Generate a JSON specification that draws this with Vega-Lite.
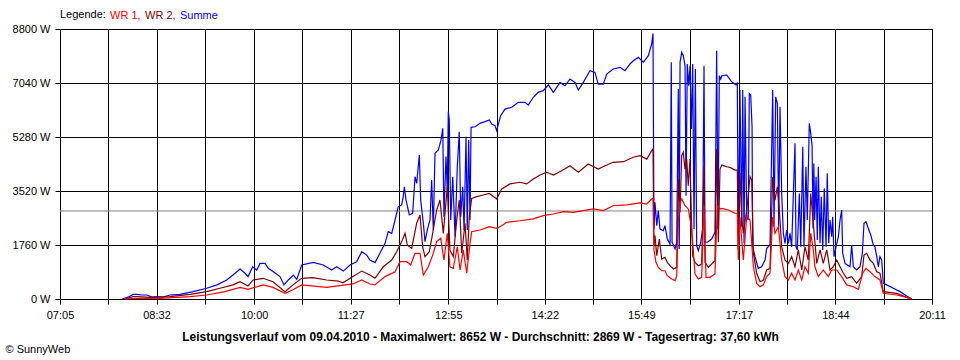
{
"$schema": "https://vega.github.io/schema/vega-lite/v6.json",
"width": 872, "height": 270,
"autosize": {"type": "none"},
"padding": {"left": 60, "top": 29, "right": 28, "bottom": 61},
"background": "white",
"config": {"view": {"stroke": "black", "strokeWidth": 1}, "font": "Liberation Sans"},
"data": {"values": [
{"s":"Summe","t":480.9,"w":0},{"s":"Summe","t":486.3,"w":60},{"s":"Summe","t":490.8,"w":150},{"s":"Summe","t":494.4,"w":150},{"s":"Summe","t":498.9,"w":130},{"s":"Summe","t":503.4,"w":130},{"s":"Summe","t":507.9,"w":60},{"s":"Summe","t":512.4,"w":75},{"s":"Summe","t":517.8,"w":60},{"s":"Summe","t":524.2,"w":130},{"s":"Summe","t":533.2,"w":150},{"s":"Summe","t":544.9,"w":240},{"s":"Summe","t":557.2,"w":350},{"s":"Summe","t":566.5,"w":460},{"s":"Summe","t":575.3,"w":620},{"s":"Summe","t":580.9,"w":780},{"s":"Summe","t":587.3,"w":980},{"s":"Summe","t":591.8,"w":840},{"s":"Summe","t":594.5,"w":730},{"s":"Summe","t":598.7,"w":1050},{"s":"Summe","t":602.3,"w":945},{"s":"Summe","t":605.3,"w":1160},{"s":"Summe","t":609.8,"w":1160},{"s":"Summe","t":612.8,"w":1000},{"s":"Summe","t":617.3,"w":890},{"s":"Summe","t":623.3,"w":730},{"s":"Summe","t":626.9,"w":460},{"s":"Summe","t":630.8,"w":620},{"s":"Summe","t":635.3,"w":780},{"s":"Summe","t":638.4,"w":640},{"s":"Summe","t":642.9,"w":1110},{"s":"Summe","t":653.3,"w":1195},{"s":"Summe","t":662.3,"w":1110},{"s":"Summe","t":669.9,"w":945},{"s":"Summe","t":674.4,"w":1050},{"s":"Summe","t":680.4,"w":910},{"s":"Summe","t":686.4,"w":1110},{"s":"Summe","t":692.4,"w":1215},{"s":"Summe","t":697,"w":1540},{"s":"Summe","t":701.5,"w":1430},{"s":"Summe","t":704.4,"w":1270},{"s":"Summe","t":708.9,"w":1185},{"s":"Summe","t":713.4,"w":1490},{"s":"Summe","t":718,"w":1815},{"s":"Summe","t":720.9,"w":2195},{"s":"Summe","t":724,"w":2140},{"s":"Summe","t":727,"w":2575},{"s":"Summe","t":729.9,"w":3010},{"s":"Summe","t":733,"w":3065},{"s":"Summe","t":734.4,"w":3335},{"s":"Summe","t":735.4,"w":3660},{"s":"Summe","t":736.9,"w":3225},{"s":"Summe","t":739.9,"w":2740},{"s":"Summe","t":742.9,"w":2795},{"s":"Summe","t":745,"w":3985},{"s":"Summe","t":746.5,"w":3770},{"s":"Summe","t":748.9,"w":4695},{"s":"Summe","t":750.1,"w":3225},{"s":"Summe","t":752.5,"w":2470},{"s":"Summe","t":754,"w":1870},{"s":"Summe","t":756.1,"w":2250},{"s":"Summe","t":758.5,"w":2575},{"s":"Summe","t":760,"w":3880},{"s":"Summe","t":761.5,"w":2250},{"s":"Summe","t":763,"w":4750},{"s":"Summe","t":766,"w":4855},{"s":"Summe","t":768.4,"w":5180},{"s":"Summe","t":770,"w":5565},{"s":"Summe","t":771.1,"w":2680},{"s":"Summe","t":772.9,"w":4640},{"s":"Summe","t":774.1,"w":3550},{"s":"Summe","t":775,"w":6105},{"s":"Summe","t":775.9,"w":5835},{"s":"Summe","t":777.2,"w":2575},{"s":"Summe","t":779,"w":3985},{"s":"Summe","t":781.1,"w":2030},{"s":"Summe","t":783.1,"w":4310},{"s":"Summe","t":784.9,"w":5450},{"s":"Summe","t":786.2,"w":2680},{"s":"Summe","t":788,"w":3660},{"s":"Summe","t":789.2,"w":2250},{"s":"Summe","t":791,"w":5290},{"s":"Summe","t":792.1,"w":2250},{"s":"Summe","t":793.4,"w":5180},{"s":"Summe","t":794.6,"w":2575},{"s":"Summe","t":795.5,"w":5595},{"s":"Summe","t":799.1,"w":5615},{"s":"Summe","t":803.6,"w":5725},{"s":"Summe","t":808.1,"w":5780},{"s":"Summe","t":812,"w":5835},{"s":"Summe","t":814.1,"w":5705},{"s":"Summe","t":817.1,"w":5650},{"s":"Summe","t":818.6,"w":5485},{"s":"Summe","t":822.2,"w":5975},{"s":"Summe","t":826.1,"w":6190},{"s":"Summe","t":832.2,"w":6250},{"s":"Summe","t":838.1,"w":6410},{"s":"Summe","t":844.2,"w":6410},{"s":"Summe","t":847.1,"w":6320},{"s":"Summe","t":851.6,"w":6575},{"s":"Summe","t":856.1,"w":6735},{"s":"Summe","t":860.6,"w":6790},{"s":"Summe","t":865.2,"w":6980},{"s":"Summe","t":869.7,"w":6735},{"s":"Summe","t":875.7,"w":7060},{"s":"Summe","t":880.2,"w":6950},{"s":"Summe","t":884.7,"w":7170},{"s":"Summe","t":889.2,"w":7060},{"s":"Summe","t":892.2,"w":6810},{"s":"Summe","t":896.7,"w":7060},{"s":"Summe","t":902.7,"w":7440},{"s":"Summe","t":907.2,"w":7385},{"s":"Summe","t":910.2,"w":7005},{"s":"Summe","t":914.7,"w":7005},{"s":"Summe","t":917.8,"w":7330},{"s":"Summe","t":923.7,"w":7495},{"s":"Summe","t":929.8,"w":7550},{"s":"Summe","t":934.3,"w":7440},{"s":"Summe","t":938.8,"w":7660},{"s":"Summe","t":941.8,"w":7765},{"s":"Summe","t":946.3,"w":7875},{"s":"Summe","t":950.8,"w":7715},{"s":"Summe","t":955.3,"w":7930},{"s":"Summe","t":958.3,"w":8310},{"s":"Summe","t":959.5,"w":8652},{"s":"Summe","t":960.4,"w":2280},{"s":"Summe","t":961.3,"w":3150},{"s":"Summe","t":962.9,"w":2390},{"s":"Summe","t":964.3,"w":2880},{"s":"Summe","t":965.8,"w":2280},{"s":"Summe","t":968.8,"w":2225},{"s":"Summe","t":970.3,"w":2390},{"s":"Summe","t":972.4,"w":1955},{"s":"Summe","t":974.9,"w":1790},{"s":"Summe","t":976,"w":7715},{"s":"Summe","t":976.7,"w":1850},{"s":"Summe","t":979.4,"w":1630},{"s":"Summe","t":980.9,"w":1850},{"s":"Summe","t":982.3,"w":6845},{"s":"Summe","t":983.2,"w":1630},{"s":"Summe","t":983.9,"w":7715},{"s":"Summe","t":985.4,"w":8040},{"s":"Summe","t":986.8,"w":7930},{"s":"Summe","t":988.4,"w":7605},{"s":"Summe","t":989.3,"w":3365},{"s":"Summe","t":990.4,"w":7660},{"s":"Summe","t":991.7,"w":6950},{"s":"Summe","t":992.9,"w":7605},{"s":"Summe","t":994.1,"w":5540},{"s":"Summe","t":995.3,"w":7660},{"s":"Summe","t":996.5,"w":2280},{"s":"Summe","t":997.7,"w":7495},{"s":"Summe","t":998.9,"w":1735},{"s":"Summe","t":1000.4,"w":1575},{"s":"Summe","t":1002.5,"w":1850},{"s":"Summe","t":1004.3,"w":2280},{"s":"Summe","t":1005.5,"w":7605},{"s":"Summe","t":1006.4,"w":1850},{"s":"Summe","t":1008.5,"w":1850},{"s":"Summe","t":1012.4,"w":1955},{"s":"Summe","t":1015.4,"w":2175},{"s":"Summe","t":1016.9,"w":8090},{"s":"Summe","t":1018.1,"w":2280},{"s":"Summe","t":1019.3,"w":7280},{"s":"Summe","t":1020.5,"w":7170},{"s":"Summe","t":1021.7,"w":7280},{"s":"Summe","t":1026,"w":7300},{"s":"Summe","t":1030.5,"w":7080},{"s":"Summe","t":1034.3,"w":6975},{"s":"Summe","t":1035.5,"w":7030},{"s":"Summe","t":1036.4,"w":1925},{"s":"Summe","t":1037.9,"w":6810},{"s":"Summe","t":1039.5,"w":2355},{"s":"Summe","t":1040.4,"w":6810},{"s":"Summe","t":1041.6,"w":1815},{"s":"Summe","t":1042.5,"w":6590},{"s":"Summe","t":1044,"w":2680},{"s":"Summe","t":1045.4,"w":2575},{"s":"Summe","t":1046.3,"w":6700},{"s":"Summe","t":1047.6,"w":6650},{"s":"Summe","t":1048.8,"w":5615},{"s":"Summe","t":1049.4,"w":1700},{"s":"Summe","t":1051.5,"w":1380},{"s":"Summe","t":1054.4,"w":1000},{"s":"Summe","t":1057.5,"w":1050},{"s":"Summe","t":1060.5,"w":1270},{"s":"Summe","t":1062,"w":1650},{"s":"Summe","t":1065,"w":1760},{"s":"Summe","t":1067.4,"w":6810},{"s":"Summe","t":1068.6,"w":2355},{"s":"Summe","t":1070.1,"w":6590},{"s":"Summe","t":1071.6,"w":6375},{"s":"Summe","t":1072.8,"w":2355},{"s":"Summe","t":1074,"w":6265},{"s":"Summe","t":1075.5,"w":3440},{"s":"Summe","t":1077,"w":2140},{"s":"Summe","t":1078.5,"w":1815},{"s":"Summe","t":1080,"w":2250},{"s":"Summe","t":1081.5,"w":1815},{"s":"Summe","t":1083,"w":2140},{"s":"Summe","t":1084.5,"w":1700},{"s":"Summe","t":1087.5,"w":5075},{"s":"Summe","t":1088.4,"w":1700},{"s":"Summe","t":1089.6,"w":1600},{"s":"Summe","t":1091.4,"w":3440},{"s":"Summe","t":1092.7,"w":1700},{"s":"Summe","t":1094.5,"w":4965},{"s":"Summe","t":1095.6,"w":1700},{"s":"Summe","t":1097.4,"w":4310},{"s":"Summe","t":1098.6,"w":2575},{"s":"Summe","t":1100.4,"w":5725},{"s":"Summe","t":1101.7,"w":5400},{"s":"Summe","t":1102.9,"w":5000},{"s":"Summe","t":1103.8,"w":2300},{"s":"Summe","t":1104.5,"w":4420},{"s":"Summe","t":1105.3,"w":2575},{"s":"Summe","t":1106.5,"w":3985},{"s":"Summe","t":1107.6,"w":1925},{"s":"Summe","t":1108.5,"w":4310},{"s":"Summe","t":1110.1,"w":1815},{"s":"Summe","t":1111.2,"w":3335},{"s":"Summe","t":1112.5,"w":1600},{"s":"Summe","t":1113.9,"w":3610},{"s":"Summe","t":1115.5,"w":1700},{"s":"Summe","t":1116.6,"w":4095},{"s":"Summe","t":1117.9,"w":1815},{"s":"Summe","t":1119.1,"w":2575},{"s":"Summe","t":1120.6,"w":2030},{"s":"Summe","t":1121.5,"w":2680},{"s":"Summe","t":1122.7,"w":1380},{"s":"Summe","t":1124.5,"w":1700},{"s":"Summe","t":1126.6,"w":2030},{"s":"Summe","t":1128.1,"w":2575},{"s":"Summe","t":1129.6,"w":2900},{"s":"Summe","t":1130.5,"w":1490},{"s":"Summe","t":1132.6,"w":1160},{"s":"Summe","t":1134.7,"w":1110},{"s":"Summe","t":1137.1,"w":1050},{"s":"Summe","t":1138.6,"w":1760},{"s":"Summe","t":1140.1,"w":1050},{"s":"Summe","t":1143.1,"w":945},{"s":"Summe","t":1146.1,"w":1050},{"s":"Summe","t":1148.2,"w":1490},{"s":"Summe","t":1149.7,"w":2470},{"s":"Summe","t":1151.5,"w":2520},{"s":"Summe","t":1153.6,"w":2300},{"s":"Summe","t":1155.8,"w":2085},{"s":"Summe","t":1158.1,"w":1760},{"s":"Summe","t":1159.6,"w":1700},{"s":"Summe","t":1161.2,"w":1380},{"s":"Summe","t":1162.6,"w":1050},{"s":"Summe","t":1164.1,"w":1380},{"s":"Summe","t":1165.7,"w":1270},{"s":"Summe","t":1167.1,"w":510},{"s":"Summe","t":1170.2,"w":460},{"s":"Summe","t":1176.1,"w":350},{"s":"Summe","t":1182.2,"w":240},{"s":"Summe","t":1188.2,"w":100},{"s":"Summe","t":1192.7,"w":0},
{"s":"WR 2","t":483.6,"w":0},{"s":"WR 2","t":490.8,"w":75},{"s":"WR 2","t":494.4,"w":75},{"s":"WR 2","t":506.1,"w":50},{"s":"WR 2","t":512.4,"w":60},{"s":"WR 2","t":524.2,"w":75},{"s":"WR 2","t":542.2,"w":150},{"s":"WR 2","t":557.2,"w":240},{"s":"WR 2","t":569.2,"w":350},{"s":"WR 2","t":580.9,"w":460},{"s":"WR 2","t":587.3,"w":565},{"s":"WR 2","t":594.5,"w":425},{"s":"WR 2","t":599,"w":620},{"s":"WR 2","t":608,"w":675},{"s":"WR 2","t":617,"w":565},{"s":"WR 2","t":627.8,"w":240},{"s":"WR 2","t":635,"w":460},{"s":"WR 2","t":642.9,"w":675},{"s":"WR 2","t":653,"w":695},{"s":"WR 2","t":665.4,"w":620},{"s":"WR 2","t":675.6,"w":585},{"s":"WR 2","t":680.1,"w":530},{"s":"WR 2","t":689.1,"w":730},{"s":"WR 2","t":697,"w":910},{"s":"WR 2","t":704.4,"w":780},{"s":"WR 2","t":708.9,"w":675},{"s":"WR 2","t":716.4,"w":1050},{"s":"WR 2","t":724,"w":1270},{"s":"WR 2","t":728.5,"w":1540},{"s":"WR 2","t":733,"w":1870},{"s":"WR 2","t":736,"w":2140},{"s":"WR 2","t":738.1,"w":1760},{"s":"WR 2","t":742,"w":1650},{"s":"WR 2","t":746.5,"w":2470},{"s":"WR 2","t":749.5,"w":2740},{"s":"WR 2","t":751.9,"w":1700},{"s":"WR 2","t":754,"w":1380},{"s":"WR 2","t":757.9,"w":1540},{"s":"WR 2","t":760.9,"w":2140},{"s":"WR 2","t":764.5,"w":2900},{"s":"WR 2","t":767.5,"w":3225},{"s":"WR 2","t":770.5,"w":2140},{"s":"WR 2","t":774.1,"w":3660},{"s":"WR 2","t":776.5,"w":1600},{"s":"WR 2","t":779.5,"w":1380},{"s":"WR 2","t":782.6,"w":2575},{"s":"WR 2","t":784.9,"w":3225},{"s":"WR 2","t":787.1,"w":1490},{"s":"WR 2","t":790.1,"w":2470},{"s":"WR 2","t":792.1,"w":1270},{"s":"WR 2","t":793.9,"w":2680},{"s":"WR 2","t":796.1,"w":3280},{"s":"WR 2","t":800.6,"w":3335},{"s":"WR 2","t":806.6,"w":3390},{"s":"WR 2","t":812,"w":3440},{"s":"WR 2","t":818.6,"w":3260},{"s":"WR 2","t":823.1,"w":3585},{"s":"WR 2","t":830.6,"w":3750},{"s":"WR 2","t":839.6,"w":3805},{"s":"WR 2","t":845.7,"w":3750},{"s":"WR 2","t":851.6,"w":3910},{"s":"WR 2","t":857.7,"w":4040},{"s":"WR 2","t":863.7,"w":4130},{"s":"WR 2","t":869.7,"w":4040},{"s":"WR 2","t":877.2,"w":4180},{"s":"WR 2","t":884.7,"w":4345},{"s":"WR 2","t":892.2,"w":4130},{"s":"WR 2","t":901.2,"w":4400},{"s":"WR 2","t":910.2,"w":4235},{"s":"WR 2","t":916.3,"w":4345},{"s":"WR 2","t":923.7,"w":4455},{"s":"WR 2","t":932.8,"w":4475},{"s":"WR 2","t":941.8,"w":4620},{"s":"WR 2","t":947.8,"w":4670},{"s":"WR 2","t":953.9,"w":4560},{"s":"WR 2","t":958.3,"w":4835},{"s":"WR 2","t":959.5,"w":4890},{"s":"WR 2","t":960.4,"w":1735},{"s":"WR 2","t":961.3,"w":2065},{"s":"WR 2","t":962.9,"w":1410},{"s":"WR 2","t":965.2,"w":1955},{"s":"WR 2","t":967.4,"w":1305},{"s":"WR 2","t":970.3,"w":1360},{"s":"WR 2","t":972.4,"w":1195},{"s":"WR 2","t":974.9,"w":1085},{"s":"WR 2","t":977.8,"w":980},{"s":"WR 2","t":980.9,"w":1030},{"s":"WR 2","t":982.3,"w":3910},{"s":"WR 2","t":983.9,"w":2825},{"s":"WR 2","t":985.4,"w":4670},{"s":"WR 2","t":986.8,"w":4780},{"s":"WR 2","t":988.4,"w":4235},{"s":"WR 2","t":989.9,"w":4560},{"s":"WR 2","t":991.3,"w":3690},{"s":"WR 2","t":992.9,"w":4560},{"s":"WR 2","t":994.1,"w":2715},{"s":"WR 2","t":995.3,"w":1410},{"s":"WR 2","t":997.4,"w":1195},{"s":"WR 2","t":1000.4,"w":1085},{"s":"WR 2","t":1003.4,"w":1140},{"s":"WR 2","t":1005.5,"w":4345},{"s":"WR 2","t":1006.4,"w":1195},{"s":"WR 2","t":1009.4,"w":1030},{"s":"WR 2","t":1012.4,"w":1140},{"s":"WR 2","t":1015.4,"w":1250},{"s":"WR 2","t":1016.9,"w":4890},{"s":"WR 2","t":1018.4,"w":1850},{"s":"WR 2","t":1019.9,"w":4235},{"s":"WR 2","t":1021.5,"w":4365},{"s":"WR 2","t":1026,"w":4310},{"s":"WR 2","t":1028.9,"w":4290},{"s":"WR 2","t":1033.4,"w":4200},{"s":"WR 2","t":1035.5,"w":4200},{"s":"WR 2","t":1036.4,"w":1600},{"s":"WR 2","t":1037.9,"w":4095},{"s":"WR 2","t":1039.5,"w":2680},{"s":"WR 2","t":1040.9,"w":2140},{"s":"WR 2","t":1044,"w":2900},{"s":"WR 2","t":1047,"w":3985},{"s":"WR 2","t":1048.5,"w":3880},{"s":"WR 2","t":1050,"w":1490},{"s":"WR 2","t":1053,"w":840},{"s":"WR 2","t":1056,"w":565},{"s":"WR 2","t":1059,"w":620},{"s":"WR 2","t":1062,"w":945},{"s":"WR 2","t":1065,"w":1000},{"s":"WR 2","t":1067.4,"w":3985},{"s":"WR 2","t":1069.5,"w":3225},{"s":"WR 2","t":1071.6,"w":3660},{"s":"WR 2","t":1073.4,"w":2900},{"s":"WR 2","t":1075.5,"w":1700},{"s":"WR 2","t":1078.5,"w":1270},{"s":"WR 2","t":1081.5,"w":1160},{"s":"WR 2","t":1084.5,"w":1380},{"s":"WR 2","t":1087.5,"w":1050},{"s":"WR 2","t":1090.5,"w":1600},{"s":"WR 2","t":1093.6,"w":945},{"s":"WR 2","t":1096.5,"w":1700},{"s":"WR 2","t":1099.5,"w":1270},{"s":"WR 2","t":1101.7,"w":3440},{"s":"WR 2","t":1104,"w":2470},{"s":"WR 2","t":1107.1,"w":1160},{"s":"WR 2","t":1110.1,"w":1600},{"s":"WR 2","t":1113,"w":1160},{"s":"WR 2","t":1116.1,"w":1600},{"s":"WR 2","t":1119.1,"w":945},{"s":"WR 2","t":1122,"w":1050},{"s":"WR 2","t":1125.1,"w":1270},{"s":"WR 2","t":1128.1,"w":1050},{"s":"WR 2","t":1131.1,"w":840},{"s":"WR 2","t":1134.1,"w":675},{"s":"WR 2","t":1138.6,"w":730},{"s":"WR 2","t":1143.1,"w":510},{"s":"WR 2","t":1147.6,"w":730},{"s":"WR 2","t":1149.7,"w":1430},{"s":"WR 2","t":1152.1,"w":1490},{"s":"WR 2","t":1155.1,"w":1270},{"s":"WR 2","t":1158.1,"w":1160},{"s":"WR 2","t":1161.2,"w":890},{"s":"WR 2","t":1164.1,"w":840},{"s":"WR 2","t":1167.1,"w":240},{"s":"WR 2","t":1179.2,"w":185},{"s":"WR 2","t":1188.2,"w":55},{"s":"WR 2","t":1192.7,"w":0},
{"s":"WR 1","t":483.6,"w":0},{"s":"WR 1","t":494.4,"w":20},{"s":"WR 1","t":515.1,"w":20},{"s":"WR 1","t":542.2,"w":75},{"s":"WR 1","t":557.2,"w":130},{"s":"WR 1","t":573.7,"w":240},{"s":"WR 1","t":587.3,"w":380},{"s":"WR 1","t":594.5,"w":315},{"s":"WR 1","t":608,"w":460},{"s":"WR 1","t":617,"w":380},{"s":"WR 1","t":627.8,"w":185},{"s":"WR 1","t":635,"w":300},{"s":"WR 1","t":642.9,"w":460},{"s":"WR 1","t":665.4,"w":380},{"s":"WR 1","t":689.1,"w":490},{"s":"WR 1","t":697,"w":620},{"s":"WR 1","t":704.4,"w":490},{"s":"WR 1","t":708.9,"w":460},{"s":"WR 1","t":718,"w":730},{"s":"WR 1","t":727,"w":890},{"s":"WR 1","t":731.5,"w":1215},{"s":"WR 1","t":737.5,"w":1215},{"s":"WR 1","t":741.1,"w":1110},{"s":"WR 1","t":745,"w":1490},{"s":"WR 1","t":749.5,"w":1490},{"s":"WR 1","t":752.5,"w":780},{"s":"WR 1","t":757,"w":1050},{"s":"WR 1","t":761.5,"w":1490},{"s":"WR 1","t":764.5,"w":1870},{"s":"WR 1","t":768.2,"w":1980},{"s":"WR 1","t":771.1,"w":1270},{"s":"WR 1","t":774.1,"w":2140},{"s":"WR 1","t":776.5,"w":1050},{"s":"WR 1","t":779.5,"w":1000},{"s":"WR 1","t":783.1,"w":1700},{"s":"WR 1","t":785.6,"w":945},{"s":"WR 1","t":788.5,"w":1600},{"s":"WR 1","t":791.6,"w":840},{"s":"WR 1","t":794.6,"w":1815},{"s":"WR 1","t":796.1,"w":2195},{"s":"WR 1","t":803.6,"w":2250},{"s":"WR 1","t":812,"w":2355},{"s":"WR 1","t":818.6,"w":2300},{"s":"WR 1","t":823.1,"w":2390},{"s":"WR 1","t":827.6,"w":2500},{"s":"WR 1","t":839.6,"w":2550},{"s":"WR 1","t":851.6,"w":2610},{"s":"WR 1","t":860.6,"w":2715},{"s":"WR 1","t":869.7,"w":2770},{"s":"WR 1","t":878.7,"w":2845},{"s":"WR 1","t":887.7,"w":2825},{"s":"WR 1","t":896.7,"w":2880},{"s":"WR 1","t":905.7,"w":2935},{"s":"WR 1","t":914.7,"w":2880},{"s":"WR 1","t":923.7,"w":3040},{"s":"WR 1","t":935.8,"w":3065},{"s":"WR 1","t":947.8,"w":3130},{"s":"WR 1","t":953.9,"w":3095},{"s":"WR 1","t":958.3,"w":3260},{"s":"WR 1","t":959.5,"w":3280},{"s":"WR 1","t":960.4,"w":1600},{"s":"WR 1","t":962.2,"w":1195},{"s":"WR 1","t":964.3,"w":1030},{"s":"WR 1","t":967.4,"w":920},{"s":"WR 1","t":970.3,"w":920},{"s":"WR 1","t":972.4,"w":760},{"s":"WR 1","t":976.4,"w":650},{"s":"WR 1","t":979.4,"w":595},{"s":"WR 1","t":980.9,"w":760},{"s":"WR 1","t":982.3,"w":2500},{"s":"WR 1","t":983.9,"w":3150},{"s":"WR 1","t":985.4,"w":3260},{"s":"WR 1","t":988.4,"w":3040},{"s":"WR 1","t":991.3,"w":2935},{"s":"WR 1","t":994.4,"w":2280},{"s":"WR 1","t":997.4,"w":815},{"s":"WR 1","t":1000.4,"w":650},{"s":"WR 1","t":1003.4,"w":705},{"s":"WR 1","t":1005.5,"w":3040},{"s":"WR 1","t":1007.3,"w":705},{"s":"WR 1","t":1010.9,"w":705},{"s":"WR 1","t":1015.4,"w":815},{"s":"WR 1","t":1017.5,"w":3040},{"s":"WR 1","t":1019.9,"w":2935},{"s":"WR 1","t":1021.5,"w":2955},{"s":"WR 1","t":1027.4,"w":2900},{"s":"WR 1","t":1033.4,"w":2795},{"s":"WR 1","t":1035.5,"w":2795},{"s":"WR 1","t":1036.4,"w":1270},{"s":"WR 1","t":1037.9,"w":2680},{"s":"WR 1","t":1040.9,"w":1270},{"s":"WR 1","t":1044,"w":2680},{"s":"WR 1","t":1047,"w":2575},{"s":"WR 1","t":1050,"w":1050},{"s":"WR 1","t":1053,"w":510},{"s":"WR 1","t":1056,"w":400},{"s":"WR 1","t":1059,"w":460},{"s":"WR 1","t":1062,"w":730},{"s":"WR 1","t":1065,"w":840},{"s":"WR 1","t":1067.4,"w":2680},{"s":"WR 1","t":1069.5,"w":2140},{"s":"WR 1","t":1072.5,"w":2355},{"s":"WR 1","t":1075.5,"w":1270},{"s":"WR 1","t":1078.5,"w":730},{"s":"WR 1","t":1081.5,"w":620},{"s":"WR 1","t":1084.5,"w":840},{"s":"WR 1","t":1087.5,"w":620},{"s":"WR 1","t":1090.5,"w":945},{"s":"WR 1","t":1093.6,"w":620},{"s":"WR 1","t":1096.5,"w":1050},{"s":"WR 1","t":1099.5,"w":840},{"s":"WR 1","t":1101.7,"w":2140},{"s":"WR 1","t":1104,"w":1600},{"s":"WR 1","t":1105.5,"w":1050},{"s":"WR 1","t":1108.5,"w":730},{"s":"WR 1","t":1113,"w":945},{"s":"WR 1","t":1117.5,"w":730},{"s":"WR 1","t":1120.6,"w":945},{"s":"WR 1","t":1125.1,"w":945},{"s":"WR 1","t":1129.6,"w":730},{"s":"WR 1","t":1134.1,"w":460},{"s":"WR 1","t":1140.1,"w":400},{"s":"WR 1","t":1144.6,"w":315},{"s":"WR 1","t":1148.5,"w":840},{"s":"WR 1","t":1151.5,"w":1000},{"s":"WR 1","t":1155.1,"w":890},{"s":"WR 1","t":1159.6,"w":730},{"s":"WR 1","t":1164.1,"w":620},{"s":"WR 1","t":1167.1,"w":185},{"s":"WR 1","t":1179.2,"w":130},{"s":"WR 1","t":1188.2,"w":55},{"s":"WR 1","t":1192.7,"w":0}
]},
"layer": [
{
 "data": {"values": [{"durchschnitt": 2869}]},
 "mark": {"type": "rule", "color": "#808080", "strokeWidth": 1},
 "encoding": {
  "y": {"field": "durchschnitt", "type": "quantitative", "scale": {"domain": [0, 8800], "nice": false},
   "axis": {
    "values": [0,1760,3520,5280,7040,8800],
    "labelExpr": "datum.value + ' W'",
    "grid": true, "gridColor": "black", "gridOpacity": 1, "gridWidth": 1,
    "domainColor": "black", "tickColor": "black", "tickSize": 5,
    "labelFontSize": 11, "labelColor": "black", "labelPadding": 5,
    "title": "© SunnyWeb", "titleAngle": 0, "titleX": -55, "titleY": 323,
    "titleAlign": "left", "titleBaseline": "alphabetic", "titleFontWeight": "normal", "titleFontSize": 11, "titleColor": "black", "titleAnchor": null
   }
  }
 }
},
{
 "encoding": {
  "x": {"field": "t", "type": "quantitative",
   "scale": {"domain": [425, 1211], "nice": false, "zero": false},
   "axis": {
    "values": [425,468.5,512,556.1,600,643.5,687,730.9,775,818.5,862,905.5,949,992.9,1037,1080.5,1124,1167.5,1211],
    "labelExpr": "datum.value % 1 != 0 ? '' : (datum.value < 600 ? '0' : '') + floor(datum.value / 60) + ':' + (datum.value % 60 < 10 ? '0' : '') + (datum.value % 60)",
    "grid": true, "gridColor": "black", "gridOpacity": 1, "gridWidth": 1,
    "domainColor": "black", "tickColor": "black", "tickSize": 5,
    "labelFontSize": 11, "labelColor": "black", "labelPadding": 5, "labelOverlap": false, "labelFlush": false, "labelBound": false,
    "title": "Leistungsverlauf vom 09.04.2010 - Maximalwert: 8652 W - Durchschnitt: 2869 W - Tagesertrag: 37,60 kWh",
    "titleFontSize": 12, "titleFontWeight": "bold", "titleColor": "black",
    "titleX": 420, "titleY": 41, "titleAlign": "center", "titleBaseline": "alphabetic", "titleAnchor": null
   }
  },
  "y": {"field": "w", "type": "quantitative",
   "scale": {"domain": [0, 8800], "nice": false},
   "axis": {
    "values": [0,1760,3520,5280,7040,8800],
    "labelExpr": "datum.value + ' W'",
    "grid": true, "gridColor": "black", "gridOpacity": 1, "gridWidth": 1,
    "domainColor": "black", "tickColor": "black", "tickSize": 5,
    "labelFontSize": 11, "labelColor": "black", "labelPadding": 5,
    "title": "© SunnyWeb", "titleAngle": 0, "titleX": -55, "titleY": 323,
    "titleAlign": "left", "titleBaseline": "alphabetic", "titleFontWeight": "normal", "titleFontSize": 11, "titleColor": "black", "titleAnchor": null
   }
  },
  "color": {"field": "s", "type": "nominal",
   "scale": {"domain": ["WR 1", "WR 2", "Summe"], "range": ["#ff0000", "#800000", "#0000ff"]},
   "legend": {
    "orient": "none", "legendX": 0, "legendY": -19, "direction": "horizontal",
    "title": "Legende:", "titleOrient": "left", "titleFontWeight": "normal", "titleFontSize": 11, "titleColor": "black", "titlePadding": 4,
    "labelFontSize": 11, "symbolSize": 0, "symbolStrokeWidth": 0, "symbolOpacity": 0, "labelOffset": -11, "columnPadding": 4, "padding": 0,
    "labelExpr": "datum.label == 'Summe' ? datum.label : datum.label + ','",
    "encode": {"labels": {"update": {"fill": {"scale": "color", "field": "value"}}}}
   }
  }
 },
 "layer": [
  {"transform": [{"filter": "datum.s == 'Summe'"}], "mark": {"type": "line", "strokeWidth": 1.2}},
  {"transform": [{"filter": "datum.s == 'WR 2'"}], "mark": {"type": "line", "strokeWidth": 1.2}},
  {"transform": [{"filter": "datum.s == 'WR 1'"}], "mark": {"type": "line", "strokeWidth": 1.2}}
 ]
}
]
}
